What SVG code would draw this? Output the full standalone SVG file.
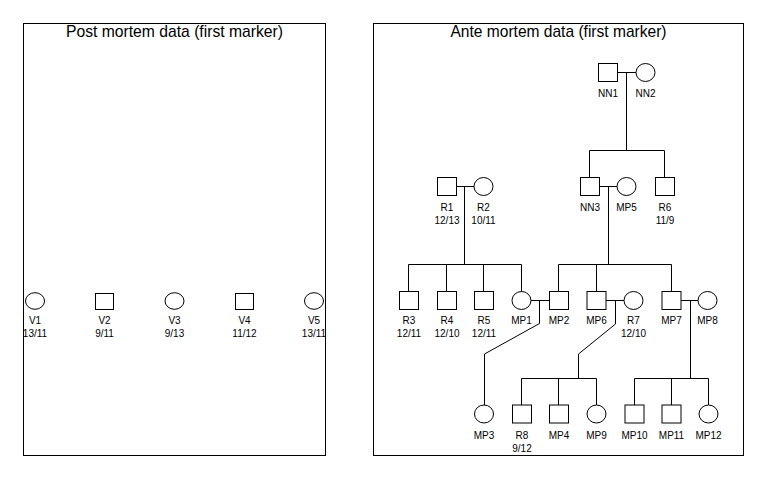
<svg xmlns="http://www.w3.org/2000/svg" width="768" height="480" viewBox="0 0 768 480">
<style>
.panel{fill:none;stroke:#000;stroke-width:1}
.title{font-family:"Liberation Sans",Arial,sans-serif;font-size:17px;fill:#000;text-anchor:middle}
.lbl{font-family:"Liberation Sans",Arial,sans-serif;font-size:10px;fill:#000;text-anchor:middle}
.sq,.ci{fill:#fff;stroke:#000;stroke-width:1}
.con{fill:none;stroke:#000;stroke-width:1}
</style>
<rect width="768" height="480" fill="#fff"/>
<g id="panel-post">
<rect class="panel" x="23.5" y="23.5" width="302" height="432"/>
<text class="title" x="174.5" y="37" textLength="217" lengthAdjust="spacingAndGlyphs">Post mortem data (first marker)</text>
</g>
<g id="panel-ante">
<rect class="panel" x="373.5" y="23.5" width="370" height="432"/>
<text class="title" x="558.5" y="37" textLength="216" lengthAdjust="spacingAndGlyphs">Ante mortem data (first marker)</text>
</g>
<g id="connectors">
<path class="con" d="M617,72.5H636M626.5,72.5V150.5M589.5,150.5H664.5M589.5,150.5V177.5M664.5,150.5V177.5"/>
<path class="con" d="M456,186.5H474M464.5,186.5V264.5M408.5,264.5H521.5M408.5,264.5V291.5M446.5,264.5V291.5M483.5,264.5V291.5M521.5,264.5V291.5"/>
<path class="con" d="M599,186.5H617M608.5,186.5V264.5M558.5,264.5H671.5M558.5,264.5V291.5M596.5,264.5V291.5M671.5,264.5V291.5"/>
<path class="con" d="M530.5,300.5H549M539.5,300.5V323.5L484.5,354V405"/>
<path class="con" d="M605.5,300.5H624M615.5,300.5V324L578.5,354V378.5M521.5,378.5H596.5M521.5,378.5V405M558.5,378.5V405M596.5,378.5V405"/>
<path class="con" d="M680.5,300.5H698M690.5,300.5V378.5M634.5,378.5H708.5M634.5,378.5V405M671.5,378.5V405M708.5,378.5V405"/>
</g>
<g id="V1"><ellipse class="ci" cx="35" cy="301" rx="9.5" ry="8.3"/><text class="lbl" x="35" y="324">V1</text><text class="lbl" x="35" y="337">13/11</text></g>
<g id="V2"><rect class="sq" x="95.5" y="293.5" width="18" height="16"/><text class="lbl" x="104.5" y="324">V2</text><text class="lbl" x="104.5" y="337">9/11</text></g>
<g id="V3"><ellipse class="ci" cx="174.5" cy="301" rx="9.5" ry="8.3"/><text class="lbl" x="174.5" y="324">V3</text><text class="lbl" x="174.5" y="337">9/13</text></g>
<g id="V4"><rect class="sq" x="235.5" y="293.5" width="18" height="16"/><text class="lbl" x="244.5" y="324">V4</text><text class="lbl" x="244.5" y="337">11/12</text></g>
<g id="V5"><ellipse class="ci" cx="314" cy="301" rx="9.5" ry="8.3"/><text class="lbl" x="314" y="324">V5</text><text class="lbl" x="314" y="337">13/11</text></g>
<g id="NN1"><rect class="sq" x="598.5" y="63.5" width="19" height="18"/><text class="lbl" x="608" y="97">NN1</text></g>
<g id="NN2"><ellipse class="ci" cx="645.5" cy="72.5" rx="9.5" ry="9"/><text class="lbl" x="645.5" y="97">NN2</text></g>
<g id="R1"><rect class="sq" x="437.5" y="177.5" width="19" height="18"/><text class="lbl" x="447" y="211">R1</text><text class="lbl" x="447" y="223.5">12/13</text></g>
<g id="R2"><ellipse class="ci" cx="483.5" cy="186.5" rx="9.5" ry="9"/><text class="lbl" x="483.5" y="211">R2</text><text class="lbl" x="483.5" y="223.5">10/11</text></g>
<g id="NN3"><rect class="sq" x="580.5" y="177.5" width="19" height="18"/><text class="lbl" x="590" y="211">NN3</text></g>
<g id="MP5"><ellipse class="ci" cx="626.5" cy="186.5" rx="9.5" ry="9"/><text class="lbl" x="626.5" y="211">MP5</text></g>
<g id="R6"><rect class="sq" x="655.5" y="177.5" width="19" height="18"/><text class="lbl" x="665" y="211">R6</text><text class="lbl" x="665" y="223.5">11/9</text></g>
<g id="R3"><rect class="sq" x="399.5" y="291.5" width="19" height="18"/><text class="lbl" x="409" y="324">R3</text><text class="lbl" x="409" y="337">12/11</text></g>
<g id="R4"><rect class="sq" x="437.5" y="291.5" width="19" height="18"/><text class="lbl" x="447" y="324">R4</text><text class="lbl" x="447" y="337">12/10</text></g>
<g id="R5"><rect class="sq" x="474.5" y="291.5" width="19" height="18"/><text class="lbl" x="484" y="324">R5</text><text class="lbl" x="484" y="337">12/11</text></g>
<g id="MP1"><ellipse class="ci" cx="521.5" cy="300.5" rx="9.5" ry="9"/><text class="lbl" x="521.5" y="324">MP1</text></g>
<g id="MP2"><rect class="sq" x="549.5" y="291.5" width="19" height="18"/><text class="lbl" x="559" y="324">MP2</text></g>
<g id="MP6"><rect class="sq" x="587" y="291.5" width="19" height="18"/><text class="lbl" x="596.5" y="324">MP6</text></g>
<g id="R7"><ellipse class="ci" cx="633.5" cy="300.5" rx="9.5" ry="9"/><text class="lbl" x="633.5" y="324">R7</text><text class="lbl" x="633.5" y="337">12/10</text></g>
<g id="MP7"><rect class="sq" x="662" y="291.5" width="19" height="18"/><text class="lbl" x="671.5" y="324">MP7</text></g>
<g id="MP8"><ellipse class="ci" cx="707.5" cy="300.5" rx="9.5" ry="9"/><text class="lbl" x="707.5" y="324">MP8</text></g>
<g id="MP3"><ellipse class="ci" cx="484" cy="414" rx="9.5" ry="9"/><text class="lbl" x="484" y="439">MP3</text></g>
<g id="R8"><rect class="sq" x="512.5" y="405" width="19" height="18"/><text class="lbl" x="522" y="439">R8</text><text class="lbl" x="522" y="452">9/12</text></g>
<g id="MP4"><rect class="sq" x="549.5" y="405" width="19" height="18"/><text class="lbl" x="559" y="439">MP4</text></g>
<g id="MP9"><ellipse class="ci" cx="596.5" cy="414" rx="9.5" ry="9"/><text class="lbl" x="596.5" y="439">MP9</text></g>
<g id="MP10"><rect class="sq" x="625" y="405" width="19" height="18"/><text class="lbl" x="634.5" y="439">MP10</text></g>
<g id="MP11"><rect class="sq" x="662" y="405" width="19" height="18"/><text class="lbl" x="671.5" y="439">MP11</text></g>
<g id="MP12"><ellipse class="ci" cx="708.5" cy="414" rx="9.5" ry="9"/><text class="lbl" x="708.5" y="439">MP12</text></g>
</svg>
